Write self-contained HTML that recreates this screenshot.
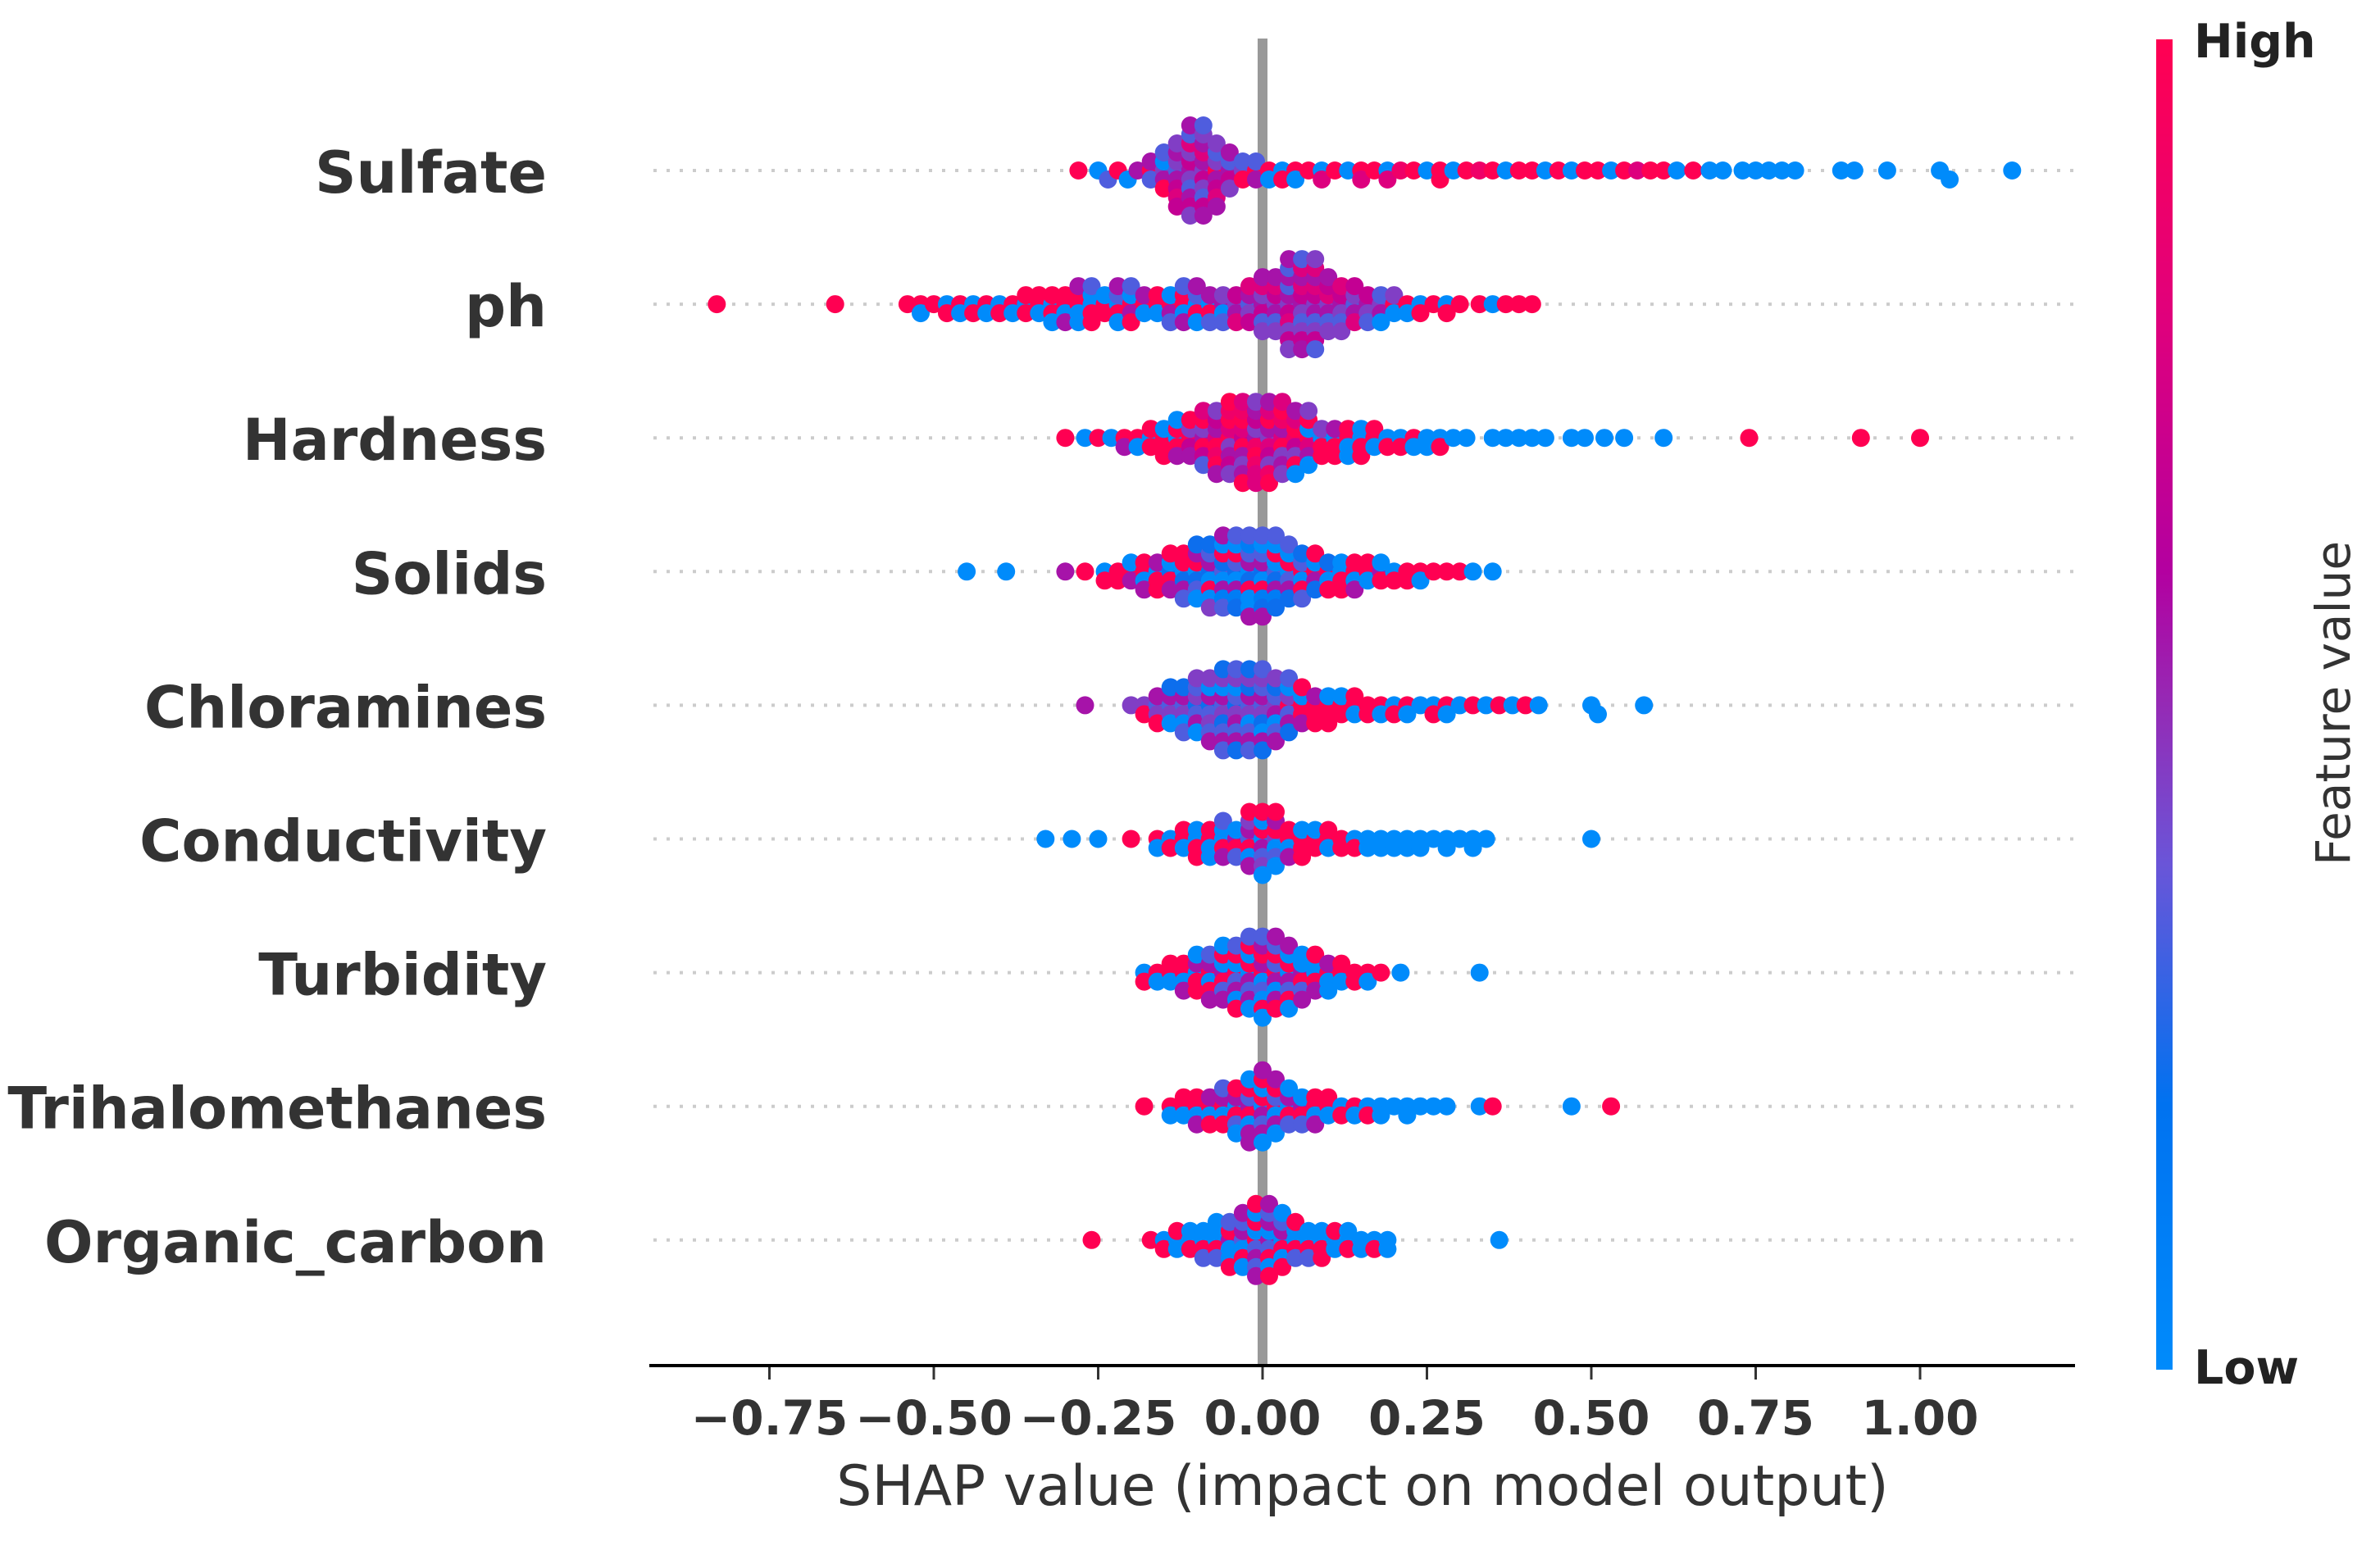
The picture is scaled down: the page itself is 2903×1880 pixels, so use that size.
<!DOCTYPE html>
<html><head><meta charset="utf-8"><style>
html,body{margin:0;padding:0;background:#fff;}
svg{display:block;}
text{font-family:"DejaVu Sans","Liberation Sans",sans-serif;}
</style></head><body>
<svg id="chart" width="2903" height="1880" viewBox="0 0 2903 1880" xmlns="http://www.w3.org/2000/svg">
<defs>
<linearGradient id="cbar" x1="0" y1="1" x2="0" y2="0">
<stop offset="0" stop-color="#008bfb"/>
<stop offset="0.2" stop-color="#0072f0"/>
<stop offset="0.38" stop-color="#6a55d8"/>
<stop offset="0.5" stop-color="#952ab5"/>
<stop offset="0.6" stop-color="#b300a0"/>
<stop offset="0.8" stop-color="#e2007a"/>
<stop offset="1" stop-color="#ff0052"/>
</linearGradient>
</defs>
<g id="grid"></g>
<rect x="1534" y="47" width="12" height="1620" fill="#999"/>
<g id="dots"></g>
<g id="labels"></g>
<line x1="792" y1="1666" x2="2531" y2="1666" stroke="#000" stroke-width="4"/>
<g id="xticks"></g>
<text x="1662" y="1836" font-size="68" fill="#333" text-anchor="middle">SHAP value (impact on model output)</text>
<rect x="2630" y="48" width="20" height="1623" fill="url(#cbar)"/>
<text x="2676" y="70" font-size="57" font-weight="bold" fill="#222">High</text>
<text x="2676" y="1688" font-size="57" font-weight="bold" fill="#222">Low</text>
<text transform="translate(2866,858) rotate(-90)" font-size="58" fill="#333" text-anchor="middle">Feature value</text>
</svg>
<script>
const features=["Sulfate","ph","Hardness","Solids","Chloramines","Conductivity","Turbidity","Trihalomethanes","Organic_carbon"];
const xTicks=[-0.75,-0.5,-0.25,0,0.25,0.5,0.75,1.0];
const xTickLabels=["\u22120.75","\u22120.50","\u22120.25","0.00","0.25","0.50","0.75","1.00"];

const sulfateShap=[-0.28,-0.25,-0.235,-0.22,-0.205,-0.19,-0.17,-0.15,-0.13,-0.11,-0.09,-0.07,-0.05,-0.03,-0.01,0.01,0.03,0.05,0.07,0.09,0.11,0.13,0.15,0.17,0.19,0.21,0.23,0.25,0.27,0.29,0.31,0.33,0.35,0.37,0.39,0.41,0.43,0.45,0.47,0.49,0.51,0.53,0.55,0.57,0.59,0.61,0.63,0.655,0.68,0.70,0.73,0.75,0.77,0.79,0.81,0.88,0.90,0.95,1.03,1.045,1.14];
const sulfateFeat=["9","0","3","9","0","5","935","45093","35465746","54634576345","46547356453","95463745","56345","493","953","90","09","90","9","07","9","0","97","9","07","8","9","0","99","0","9","8","9","0","9","9","0","9","0","9","9","0","9","7","9","9","0","9","0","0","0","0","0","0","0","0","0","0","0","0","0"];

const phShap=[-0.83,-0.65,-0.54,-0.52,-0.50,-0.48,-0.46,-0.44,-0.42,-0.40,-0.38,-0.36,-0.34,-0.32,-0.30,-0.28,-0.26,-0.24,-0.22,-0.20,-0.18,-0.16,-0.14,-0.12,-0.10,-0.08,-0.06,-0.04,-0.02,0.00,0.02,0.04,0.06,0.08,0.10,0.12,0.14,0.16,0.18,0.20,0.22,0.24,0.26,0.28,0.30,0.33,0.35,0.37,0.39,0.41];
const phFeat=["9","9","9","90","9","09","90","09","90","09","90","099","909","0990","9095","90905","09093","990","09305","95093","905","909","9503","90953","09305","0953","5043","4567","34567","5643745","4563745","46573456345","54637456753","45637456734","4573645","546374","35476","5463","4530","904","90","09","9","09","9","9","0","9","9","9"];

const hardnessShap=[-0.30,-0.27,-0.25,-0.23,-0.21,-0.19,-0.17,-0.15,-0.13,-0.11,-0.09,-0.07,-0.05,-0.03,-0.01,0.01,0.03,0.05,0.07,0.09,0.11,0.13,0.15,0.17,0.19,0.21,0.23,0.25,0.27,0.29,0.31,0.35,0.37,0.39,0.41,0.43,0.47,0.49,0.52,0.55,0.61,0.74,0.91,1.00];
const hardnessFeat=["9","0","9","0","95","90","099","9909","09950","96459","5946937","79586945","947596849","6975948579","5849685747","4756947859","795485947","86947950","9705904","0949","0959","9090","0909","909","09","09","90","00","09","0","0","0","0","0","0","0","0","0","0","0","0","9","9","9"];

const solidsShap=[-0.45,-0.39,-0.30,-0.27,-0.24,-0.22,-0.20,-0.18,-0.16,-0.14,-0.12,-0.10,-0.08,-0.06,-0.04,-0.02,0.00,0.02,0.04,0.06,0.08,0.10,0.12,0.14,0.16,0.18,0.20,0.22,0.24,0.26,0.28,0.30,0.32,0.35];
const solidsFeat=["0","0","5","9","09","99","950","9095","0959","29059","029593","0293502","20593024","302591035","203591023","0259301035","2059310235","320591023","0395023","903923","95029","9029","0909","9095","909","590","09","99","90","9","9","9","0","0"];

const chloraminesShap=[-0.27,-0.20,-0.18,-0.16,-0.14,-0.12,-0.10,-0.08,-0.06,-0.04,-0.02,0.00,0.02,0.04,0.06,0.08,0.10,0.12,0.14,0.16,0.18,0.20,0.22,0.24,0.26,0.28,0.30,0.32,0.34,0.36,0.38,0.40,0.42,0.50,0.51,0.58];
const chloraminesFeat=["5","4","49","3459","34502","345023","2345304","23540345","3452034523","2435034532","3450234523","3452304532","45302345","9345023","99059","9959","9909","990","909","99","90","09","90","0","09","90","0","9","0","9","0","9","0","0","0","0"];

const conductivityShap=[-0.33,-0.29,-0.25,-0.20,-0.16,-0.14,-0.12,-0.10,-0.08,-0.06,-0.04,-0.02,0.00,0.02,0.04,0.06,0.08,0.10,0.12,0.14,0.16,0.18,0.20,0.22,0.24,0.26,0.28,0.30,0.32,0.34,0.50];
const conductivityFeat=["0","0","0","9","90","09","909","0909","9090","09053","5903","3950459","05930490","4093509","9095","9909","990","909","99","09","00","00","00","00","00","0","00","0","00","0","0"];

const turbidityShap=[-0.18,-0.16,-0.14,-0.12,-0.10,-0.08,-0.06,-0.04,-0.02,0.00,0.02,0.04,0.06,0.08,0.10,0.12,0.14,0.16,0.18,0.21,0.33];
const turbidityFeat=["09","90","909","9095","09590","905935","5903950","93059039","059305903","9053905930","953095395","05930950","590305","09059","9050","909","99","90","9","0","0"];

const trihalomethanesShap=[-0.18,-0.14,-0.12,-0.10,-0.08,-0.06,-0.04,-0.02,0.00,0.02,0.04,0.06,0.08,0.10,0.12,0.14,0.16,0.18,0.20,0.22,0.24,0.26,0.28,0.33,0.35,0.47,0.53];
const trihalomethanesFeat=["9","90","909","9095","9059","90593","095390","59309505","059305905","9035905","09530","5903","9095","909","09","90","09","00","0","00","0","0","0","0","9","0","9"];

const organicShap=[-0.26,-0.17,-0.15,-0.13,-0.11,-0.09,-0.07,-0.05,-0.03,-0.01,0.01,0.03,0.05,0.07,0.09,0.11,0.13,0.15,0.17,0.19,0.36];
const organicFeat=["9","9","09","009","090","0903","09030","509039","3059305","930593059","530950395","0950390","09039","0903","0909","009","090","00","09","00","0"];

const shapSeries=[sulfateShap,phShap,hardnessShap,solidsShap,chloraminesShap,conductivityShap,turbidityShap,trihalomethanesShap,organicShap];
const featSeries=[sulfateFeat,phFeat,hardnessFeat,solidsFeat,chloraminesFeat,conductivityFeat,turbidityFeat,trihalomethanesFeat,organicFeat];

const NS="http://www.w3.org/2000/svg";
const X0=1540, XU=802, Y0=208, DY=163.1, R=11, STEP=11, MINDX=15;
function xScale(v){return X0+v*XU;}
function yRow(i){return Y0+i*DY;}
const stops=[[0,[0,139,251]],[0.2,[0,114,240]],[0.38,[106,85,216]],[0.5,[149,42,181]],[0.6,[179,0,160]],[0.8,[226,0,122]],[1,[255,0,82]]];
function colorFor(t){
  for(let k=1;k<stops.length;k++){
    if(t<=stops[k][0]){const a=stops[k-1],b=stops[k];const f=(t-a[0])/(b[0]-a[0]);
      const c=a[1].map((v,j)=>Math.round(v+(b[1][j]-v)*f));return `rgb(${c[0]},${c[1]},${c[2]})`;}
  }
  return "rgb(255,0,82)";
}
const grid=document.getElementById('grid'),dots=document.getElementById('dots'),labels=document.getElementById('labels'),xt=document.getElementById('xticks');
features.forEach((name,i)=>{
  const y=yRow(i);
  const gl=document.createElementNS(NS,'line');
  
  
  gl.setAttribute('x1',797);gl.setAttribute('x2',2531);gl.setAttribute('y1',y);gl.setAttribute('y2',y);
  gl.setAttribute('stroke','#cccccc');gl.setAttribute('stroke-width','4');gl.setAttribute('stroke-dasharray','4 12');
  grid.appendChild(gl);
  const lb=document.createElementNS(NS,'text');
  
  
  lb.setAttribute('x',667);lb.setAttribute('y',y+27);lb.setAttribute('text-anchor','end');
  lb.setAttribute('font-size','70');lb.setAttribute('font-weight','bold');lb.setAttribute('fill','#333');
  lb.textContent=name;labels.appendChild(lb);
  const pts=[];
  shapSeries[i].forEach((v,k)=>{const s=featSeries[i][k]||"5";for(const ch of s){pts.push({v:v,f:parseInt(ch)/9});}});
  pts.sort((a,b)=>a.v-b.v);
  const placed=[];
  const g=document.createElementNS(NS,'g');
  
  
  pts.forEach(p=>{
    const px=xScale(p.v);
    let layer=0;
    for(let n=0;n<60;n++){
      const L=n===0?0:(n%2===1?Math.ceil(n/2):-Math.ceil(n/2));
      if(!placed.some(q=>q.L===L&&Math.abs(q.x-px)<MINDX)){layer=L;break;}
    }
    placed.push({x:px,L:layer});
    const c=document.createElementNS(NS,'circle');
    
    
    c.setAttribute('cx',px.toFixed(1));c.setAttribute('cy',(y+layer*STEP).toFixed(1));c.setAttribute('r',R);
    c.setAttribute('fill',colorFor(p.f));
    g.appendChild(c);
  });
  dots.appendChild(g);
});
xTicks.forEach((t,k)=>{
  const x=xScale(t);
  const tk=document.createElementNS(NS,'line');
  
  
  tk.setAttribute('x1',x);tk.setAttribute('x2',x);tk.setAttribute('y1',1668);tk.setAttribute('y2',1683);
  tk.setAttribute('stroke','#333');tk.setAttribute('stroke-width','3');xt.appendChild(tk);
  const tl=document.createElementNS(NS,'text');
  
  
  tl.setAttribute('x',x);tl.setAttribute('y',1750);tl.setAttribute('text-anchor','middle');
  tl.setAttribute('font-size','58');tl.setAttribute('font-weight','bold');tl.setAttribute('fill','#333');
  tl.textContent=xTickLabels[k];xt.appendChild(tl);
});
</script>
</body></html>
